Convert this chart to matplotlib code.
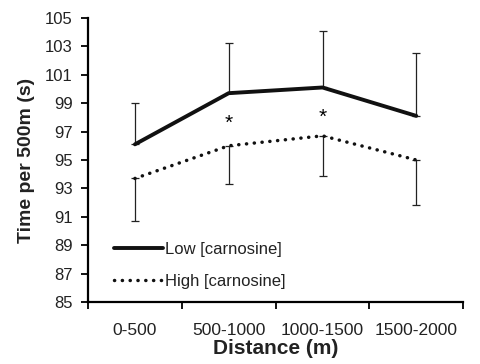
import matplotlib.pyplot as plt
import numpy as np

plt.rcParams['font.family'] = ['Liberation Sans', 'DejaVu Sans']

# donnees
categories = ["0-500", "500-1000", "1000-1500", "1500-2000"]
low = [96.1, 99.7, 100.1, 98.1]
low_err = [2.9, 3.5, 4.0, 4.4]
high = [93.7, 96.0, 96.7, 95.0]
high_err = [3.0, 2.7, 2.8, 3.2]
star_cats = [1, 2]
star_y = [97.6, 98.0]

fig = plt.figure(figsize=(4.81, 3.64), dpi=100)
ax = fig.add_axes([0.183, 0.170, 0.780, 0.781])

x = np.arange(len(categories))

# erreurs : haut pour low, bas pour high
ax.errorbar(x, low, yerr=[np.zeros(len(low)), low_err], fmt='none',
            ecolor='#222222', elinewidth=0.9, capsize=3, capthick=0.9)
ax.errorbar(x, high, yerr=[high_err, np.zeros(len(high))], fmt='none',
            ecolor='#222222', elinewidth=0.9, capsize=3, capthick=0.9)

ax.plot(x, low, color='#111111', lw=2.8, solid_capstyle='round',
        solid_joinstyle='round', label='Low [carnosine]')
ax.plot(x, high, color='#111111', lw=2.5, linestyle=(0, (0.05, 2.2)),
        dash_capstyle='round', label='High [carnosine]')

for c, yy in zip(star_cats, star_y):
    ax.text(c, yy, '*', ha='center', va='center', fontsize=15)

ax.set_xlim(-0.5, len(categories) - 0.5)
ax.set_ylim(85, 105)
ax.set_yticks(np.arange(85, 106, 2))
ax.set_xticks(x)
ax.set_xticklabels(categories)
ax.set_xticks(np.arange(-0.5, len(categories), 1), minor=True)
ax.tick_params(axis='x', which='major', length=0, pad=15, labelsize=12.5,
               labelcolor='#222222')
ax.tick_params(axis='x', which='minor', length=5, width=1.3, direction='out')
ax.tick_params(axis='y', length=5, width=1.3, direction='out', labelsize=12,
               labelcolor='#222222', pad=6)

for s in ['top', 'right']:
    ax.spines[s].set_visible(False)
for s in ['left', 'bottom']:
    ax.spines[s].set_linewidth(1.6)

ax.set_xlabel('Distance (m)', fontsize=15, fontweight='bold', labelpad=1,
              color='#222222')
ax.set_ylabel('Time per 500m (s)', fontsize=14, fontweight='bold', labelpad=7,
              color='#222222')

ax.legend(loc='lower left', bbox_to_anchor=(0.03, -0.005), frameon=False,
          fontsize=12, handlelength=2.9, handletextpad=0.15, labelspacing=1.0,
          labelcolor='#222222')

fig.savefig('out.png', dpi=100)
